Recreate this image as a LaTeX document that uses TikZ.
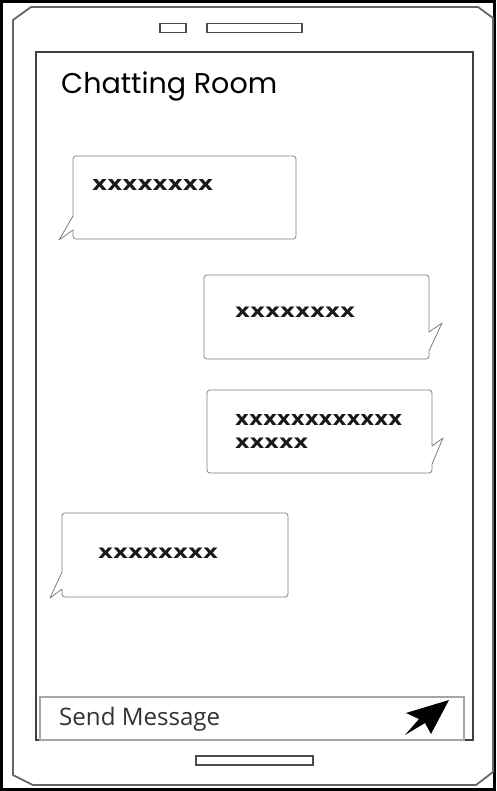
\documentclass[tikz,border=0pt]{standalone}
\usepackage{fontspec}
\setmainfont{DejaVu Sans}
\newfontfamily\sendfont{Open Sans}
\newfontfamily\titlefont{Poppins}
\begin{document}
\begin{tikzpicture}[x=1pt,y=-1pt,
  frame/.style={draw=black,line width=2.2pt},
  phone/.style={draw=black!60,line width=1.8pt,line join=round},
  screen/.style={draw=black!75,line width=1.6pt},
  slot/.style={draw=black!70,line width=1.2pt},
  bar/.style={draw=black!35,line width=1.6pt},
  bubble/.style={draw=black!50,line width=0.8pt,line join=round},
  xtext/.style={inner sep=0pt,anchor=west,text=black!90,font=\bfseries}]
\useasboundingbox (0,0) rectangle (496,791);
\fill[white] (0,0) rectangle (496,791);
\draw[frame] (1.5,1.5) rectangle (494.5,789.5);
% phone body
\draw[phone] (13,20) -- (31,7) -- (478,7) -- (493,18) -- (493,772) -- (476,785) -- (33,785) -- (13,775) -- cycle;
% speaker slots
\node[slot,inner sep=0pt,minimum width=26pt,minimum height=9pt] (cam) at (173,28) {};
\node[slot,inner sep=0pt,minimum width=95pt,minimum height=9pt] (spk) at (254.5,28) {};
\node[slot,inner sep=0pt,minimum width=117pt,minimum height=9pt] (home) at (254.5,760.5) {};
% screen
\draw[screen] (36,52) rectangle (473,740);
\node[inner sep=0pt,anchor=base west] (title) at (61,94) {\titlefont\resizebox{216pt}{!}{Chatting Room}};
% bubble 1 (left)
\draw[bubble] (73,216) [rounded corners=3pt] -- (73,156) -- (296,156) -- (296,239) -- (73,239) [sharp corners] -- (73,230) -- (59,240) -- cycle;
\node[xtext] (m1) at (92,185) {\resizebox{121pt}{11pt}{xxxxxxxx}};
% bubble 2 (right)
\draw[bubble] (429,332) [rounded corners=3pt] -- (429,275) -- (204,275) -- (204,359) -- (429,359) [sharp corners] -- (429,351) -- (442,323) -- cycle;
\node[xtext] (m2) at (235,312) {\resizebox{120pt}{10.5pt}{xxxxxxxx}};
% bubble 3 (right)
\draw[bubble] (432,446) [rounded corners=3pt] -- (432,390) -- (207,390) -- (207,473) -- (432,473) [sharp corners] -- (432,464) -- (443,438) -- cycle;
\node[xtext] (m3a) at (235,420) {\resizebox{167pt}{11pt}{xxxxxxxxxxxx}};
\node[xtext] (m3b) at (235,443) {\resizebox{73pt}{10.5pt}{xxxxx}};
% bubble 4 (left)
\draw[bubble] (62,572) [rounded corners=3pt] -- (62,513) -- (288,513) -- (288,597) -- (62,597) [sharp corners] -- (62,589) -- (50,598) -- cycle;
\node[xtext] (m4) at (98,553) {\resizebox{120pt}{10.5pt}{xxxxxxxx}};
% send bar
\draw[bar] (40,697) rectangle (464,740);
\node[inner sep=0pt,anchor=base west,text=black!80] (send) at (59,725) {\sendfont\resizebox{161pt}{!}{Send Message}};
\fill[black] (449,700) -- (406,713) -- (419,719) -- (405,735) -- (425,723) -- (431,734) -- cycle;
\end{tikzpicture}
\end{document}
